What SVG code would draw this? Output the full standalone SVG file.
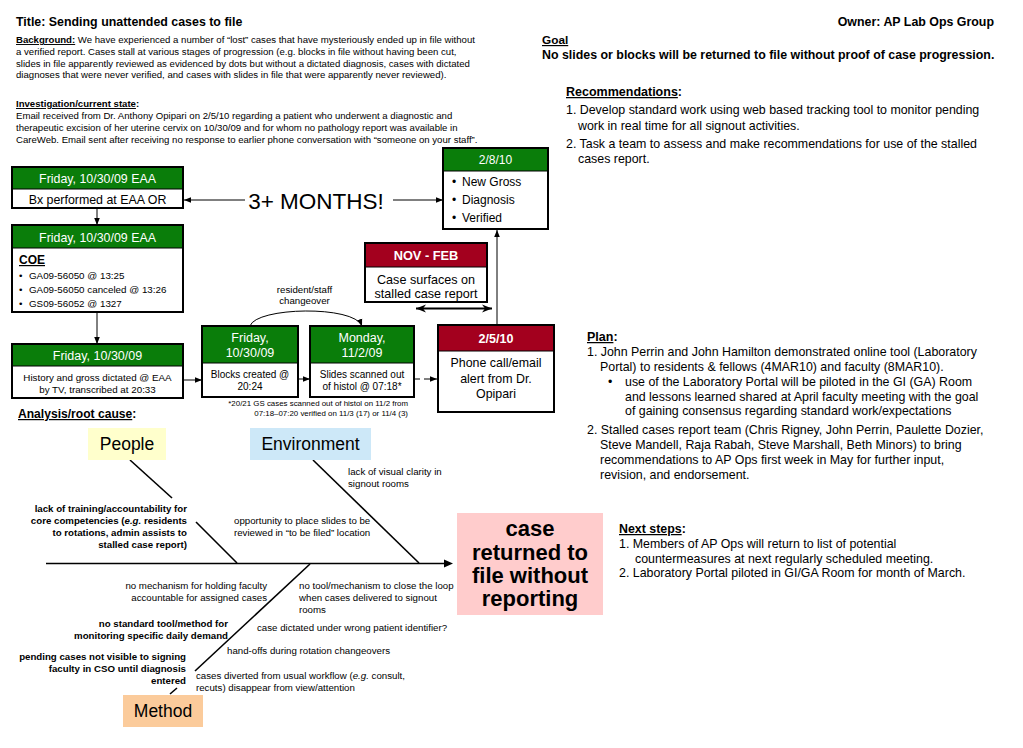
<svg xmlns="http://www.w3.org/2000/svg" width="1023" height="748" viewBox="0 0 1023 748">
<defs>
<style>
text{font-family:"Liberation Sans",Arial,Helvetica,sans-serif;fill:#000}
.b{font-weight:bold}
.w{fill:#fff}
.u{text-decoration:underline}
.m{text-anchor:middle}
.e{text-anchor:end}
.box{fill:#fff;stroke:#000;stroke-width:2}
.g{fill:#0A7D0A}
.r{fill:#A3001E}
.ln{stroke:#000;stroke-width:1;fill:none}
.bone{stroke:#000;stroke-width:1.6;fill:none}
.s9{font-size:9.6px}
.s98{font-size:9.8px}
.sf{font-size:9.7px}
.s12{font-size:12.4px}
.cat{font-size:17.5px}
</style>
<marker id="ah" viewBox="0 0 10 10" refX="10" refY="5" markerWidth="7" markerHeight="7" orient="auto-start-reverse" markerUnits="userSpaceOnUse"><path d="M0,1 L10,5 L0,9 z" fill="#000"/></marker>
<marker id="ahb" viewBox="0 0 10 10" refX="10" refY="5" markerWidth="10" markerHeight="10" orient="auto-start-reverse" markerUnits="userSpaceOnUse"><path d="M0,1 L10,5 L0,9 L3,5 z" fill="#000"/></marker>
</defs>
<rect width="1023" height="748" fill="#fff"/>

<g id="header">
<text x="16" y="26" class="b" font-size="12.4">Title: Sending unattended cases to file</text>
<text x="994" y="26" class="b e" font-size="12.4">Owner: AP Lab Ops Group</text>
</g>

<g id="background" class="s9">
<text x="16" y="43"><tspan class="b u">Background:</tspan>  We have experienced a number of “lost” cases that have mysteriously ended up in file without</text>
<text x="16" y="55">a verified report.  Cases stall at various stages of progression (e.g. blocks in file without having been cut,</text>
<text x="16" y="66.5">slides in file apparently reviewed as evidenced by dots but without a dictated diagnosis, cases with dictated</text>
<text x="16" y="78">diagnoses that were never verified, and cases with slides in file that were apparently never reviewed).</text>
<text x="16" y="107"><tspan class="b u">Investigation/current state</tspan><tspan class="b">:</tspan></text>
<text x="16" y="119">Email received from Dr. Anthony Opipari on 2/5/10 regarding a patient who underwent a diagnostic and</text>
<text x="16" y="131">therapeutic excision of her uterine cervix on 10/30/09 and for whom no pathology report was available in</text>
<text x="16" y="143">CareWeb. Email sent after receiving no response to earlier phone conversation with “someone on your staff”.</text>
</g>

<g id="goal">
<text x="542" y="44" class="b u" font-size="11.8">Goal</text>
<text x="542" y="59" class="b" font-size="12.4">No slides or blocks will be returned to file without proof of case progression.</text>
</g>

<g id="recommendations" class="s12">
<text x="566" y="96" class="b" font-size="12.5"><tspan class="u">Recommendations</tspan>:</text>
<text x="566" y="114">1. Develop standard work using web based tracking tool to monitor pending</text>
<text x="578" y="130">work in real time for all signout activities.</text>
<text x="566" y="148">2. Task a team to assess and make recommendations for use of the stalled</text>
<text x="578" y="163">cases report.</text>
</g>

<g id="plan" class="s12">
<text x="587" y="341" class="b" font-size="12.5"><tspan class="u">Plan</tspan>:</text>
<text x="587" y="356">1. John Perrin and John Hamilton demonstrated online tool (Laboratory</text>
<text x="600" y="371">Portal) to residents &amp; fellows (4MAR10) and faculty (8MAR10).</text>
<text x="608" y="386">•</text>
<text x="625" y="386">use of the Laboratory Portal will be piloted in the GI (GA) Room</text>
<text x="625" y="400.5">and lessons learned shared at April faculty meeting with the goal</text>
<text x="625" y="415">of gaining consensus regarding standard work/expectations</text>
<text x="587" y="434">2. Stalled cases report team (Chris Rigney, John Perrin, Paulette Dozier,</text>
<text x="600" y="449">Steve Mandell, Raja Rabah, Steve Marshall, Beth Minors) to bring</text>
<text x="600" y="464">recommendations to AP Ops first week in May for further input,</text>
<text x="600" y="479">revision, and endorsement.</text>
</g>

<g id="nextsteps" font-size="12.4">
<text x="619" y="533" class="b"><tspan class="u">Next steps</tspan>:</text>
<text x="619" y="548">1.  Members of AP Ops will return to list of potential</text>
<text x="635" y="562.5">countermeasures at next regularly scheduled meeting.</text>
<text x="619" y="577">2.  Laboratory Portal piloted in GI/GA Room for month of March.</text>
</g>

<g id="connectors">
<line class="ln" x1="97" y1="208" x2="97" y2="225" marker-end="url(#ah)"/>
<line class="ln" x1="97" y1="312" x2="97" y2="344" marker-end="url(#ah)"/>
<line class="ln" x1="183" y1="380" x2="202" y2="380" marker-end="url(#ah)"/>
<line class="ln" x1="298" y1="379" x2="310" y2="379" marker-end="url(#ah)"/>
<line class="ln" x1="414" y1="379" x2="437" y2="379" stroke-dasharray="6,4" marker-end="url(#ah)"/>
<path class="ln" d="M250,326 C256,307 354,305 362,326" marker-end="url(#ah)"/>
<line class="ln" x1="245" y1="200" x2="184" y2="200" marker-end="url(#ah)"/>
<line class="ln" x1="393" y1="200" x2="443" y2="200" marker-end="url(#ah)"/>
<line class="ln" x1="497" y1="325" x2="497" y2="230" marker-end="url(#ah)"/>
<line x1="416" y1="308.5" x2="492" y2="308.5" stroke="#000" stroke-width="2" marker-start="url(#ahb)" marker-end="url(#ahb)"/>
</g>

<g id="node-bx">
<rect class="box" x="12" y="167" width="171" height="41"/>
<rect class="g" x="13" y="168" width="169" height="21"/>
<line class="ln" x1="12" y1="189" x2="183" y2="189"/>
<text x="97.5" y="183" class="w m" font-size="12.4">Friday, 10/30/09 EAA</text>
<text x="97.5" y="203.5" class="m" font-size="12.4">Bx performed at EAA OR</text>
</g>

<g id="node-coe">
<rect class="box" x="12" y="225" width="171" height="87"/>
<rect class="g" x="13" y="226" width="169" height="22"/>
<line class="ln" x1="12" y1="248" x2="183" y2="248"/>
<text x="97.5" y="241.5" class="w m" font-size="12.4">Friday, 10/30/09 EAA</text>
<text x="19" y="264" class="b u" font-size="12">COE</text>
<g class="s98">
<text x="19" y="278.5">•</text><text x="29" y="278.5">GA09-56050 @ 13:25</text>
<text x="19" y="292.5">•</text><text x="29" y="292.5">GA09-56050 canceled @ 13:26</text>
<text x="19" y="306.5">•</text><text x="29" y="306.5">GS09-56052 @ 1327</text>
</g>
</g>

<g id="node-history">
<rect class="box" x="12" y="344" width="171" height="54"/>
<rect class="g" x="13" y="345" width="169" height="21"/>
<line class="ln" x1="12" y1="366" x2="183" y2="366"/>
<text x="97.5" y="360" class="w m" font-size="12.5">Friday, 10/30/09</text>
<text x="97.5" y="380.5" class="m s98">History and gross dictated @ EAA</text>
<text x="97.5" y="392.5" class="m s98">by TV, transcribed at 20:33</text>
</g>

<g id="node-blocks">
<rect class="box" x="202" y="326" width="96" height="71"/>
<rect class="g" x="203" y="327" width="94" height="36"/>
<line class="ln" x1="202" y1="363" x2="298" y2="363"/>
<text x="250" y="341.5" class="w m" font-size="12.5">Friday,</text>
<text x="250" y="356.5" class="w m" font-size="12.5">10/30/09</text>
<text x="250" y="377.5" class="m" font-size="10">Blocks created @</text>
<text x="250" y="389.5" class="m" font-size="10">20:24</text>
</g>

<g id="node-slides">
<rect class="box" x="310" y="326" width="104" height="71"/>
<rect class="g" x="311" y="327" width="102" height="36"/>
<line class="ln" x1="310" y1="363" x2="414" y2="363"/>
<text x="362" y="341.5" class="w m" font-size="12.5">Monday,</text>
<text x="362" y="356.5" class="w m" font-size="12.5">11/2/09</text>
<text x="362" y="377.5" class="m" font-size="10">Slides scanned out</text>
<text x="362" y="389.5" class="m" font-size="10">of histol @ 07:18*</text>
</g>

<g id="changeover-label" class="sf">
<text x="304.5" y="292.5" class="m">resident/staff</text>
<text x="304.5" y="304" class="m">changeover</text>
</g>

<g id="footnote" font-size="7.9">
<text x="408" y="405.5" class="e">*20/21 GS cases scanned out of histol on 11/2 from</text>
<text x="408" y="416" class="e">07:18–07:20 verified on 11/3 (17) or 11/4 (3)</text>
</g>

<g id="node-novfeb">
<rect class="box" x="365" y="243" width="122" height="59"/>
<rect class="r" x="366" y="244" width="120" height="23"/>
<line class="ln" x1="365" y1="267" x2="487" y2="267"/>
<text x="426" y="260" class="w m b" font-size="12.8">NOV - FEB</text>
<text x="426" y="283.5" class="m" font-size="12.6">Case surfaces on</text>
<text x="426" y="298" class="m" font-size="12.6">stalled case report</text>
</g>

<g id="node-phone">
<rect class="box" x="438" y="325" width="116" height="87"/>
<rect class="r" x="439" y="326" width="114" height="25"/>
<line class="ln" x1="438" y1="351" x2="554" y2="351"/>
<text x="496" y="343" class="w m b" font-size="12.5">2/5/10</text>
<text x="496" y="367" class="m s12">Phone call/email</text>
<text x="496" y="382.5" class="m s12">alert from Dr.</text>
<text x="496" y="398" class="m s12">Opipari</text>
</g>

<g id="node-verified">
<rect class="box" x="443" y="148" width="105" height="81"/>
<rect class="g" x="444" y="149" width="103" height="22"/>
<line class="ln" x1="443" y1="171" x2="548" y2="171"/>
<text x="495.5" y="164" class="w m" font-size="12">2/8/10</text>
<g font-size="12">
<text x="452" y="186">•</text><text x="462" y="186">New Gross</text>
<text x="452" y="204">•</text><text x="462" y="204">Diagnosis</text>
<text x="452" y="222">•</text><text x="462" y="222">Verified</text>
</g>
</g>

<g id="months">
<text x="316" y="209" class="m" font-size="22.5">3+ MONTHS!</text>
</g>

<g id="analysis">
<text x="18" y="418" class="b" font-size="12.1"><tspan class="u">Analysis/root cause</tspan>:</text>
</g>

<g id="fishbone">
<line class="bone" x1="46" y1="563.5" x2="446" y2="563.5"/>
<path d="M444,559.5 L453,563.5 L444,567.5 z" fill="#000"/>
<line class="bone" x1="130" y1="460" x2="172" y2="498"/>
<line class="bone" x1="196" y1="522" x2="237" y2="563"/>
<line class="bone" x1="313" y1="460" x2="419" y2="563"/>
<line class="bone" x1="195" y1="671" x2="310" y2="564"/>
<line class="bone" x1="170" y1="694" x2="177" y2="688"/>
</g>

<g id="cat-people">
<rect x="88" y="428" width="78" height="32" fill="#FFFFCC"/>
<text x="127" y="450" class="m cat">People</text>
</g>
<g id="cat-environment">
<rect x="250" y="428" width="121" height="32" fill="#CDE8F8"/>
<text x="310.5" y="450" class="m cat">Environment</text>
</g>
<g id="cat-method">
<rect x="123" y="695" width="80" height="32" fill="#FBCB9B"/>
<text x="163" y="717" class="m cat">Method</text>
</g>

<g id="causes" class="sf">
<g class="b e">
<text x="187" y="511.5">lack of training/accountability for</text>
<text x="187" y="523.5">core competencies (<tspan font-style="italic">e.g.</tspan> residents</text>
<text x="187" y="535.5">to rotations, admin assists to</text>
<text x="187" y="547.5">stalled case report)</text>
<text x="228" y="626.5">no standard tool/method for</text>
<text x="228" y="639">monitoring specific daily demand</text>
<text x="186" y="659.5">pending cases not visible to signing</text>
<text x="186" y="671.5">faculty in CSO until diagnosis</text>
<text x="186" y="683.5">entered</text>
</g>
<text x="234" y="523.5">opportunity to place slides to be</text>
<text x="234" y="535.5">reviewed in “to be filed” location</text>
<text x="348" y="475">lack of visual clarity in</text>
<text x="348" y="487">signout rooms</text>
<text x="267" y="588.5" class="e">no mechanism for holding faculty</text>
<text x="267" y="600.5" class="e">accountable for assigned cases</text>
<text x="299" y="588.5">no tool/mechanism to close the loop</text>
<text x="299" y="600.5">when cases delivered to signout</text>
<text x="299" y="612.5">rooms</text>
<text x="257" y="630.5">case dictated under wrong patient identifier?</text>
<text x="227" y="653.5">hand-offs during rotation changeovers</text>
<text x="196" y="678.5">cases diverted from usual workflow (<tspan font-style="italic">e.g.</tspan> consult,</text>
<text x="196" y="690.5">recuts) disappear from view/attention</text>
</g>

<g id="effect">
<rect x="457" y="513" width="146" height="102" fill="#FFCCCC"/>
<g class="b m" font-size="22">
<text x="530" y="536">case</text>
<text x="530" y="560">returned to</text>
<text x="530" y="583">file without</text>
<text x="530" y="606">reporting</text>
</g>
</g>
</svg>
